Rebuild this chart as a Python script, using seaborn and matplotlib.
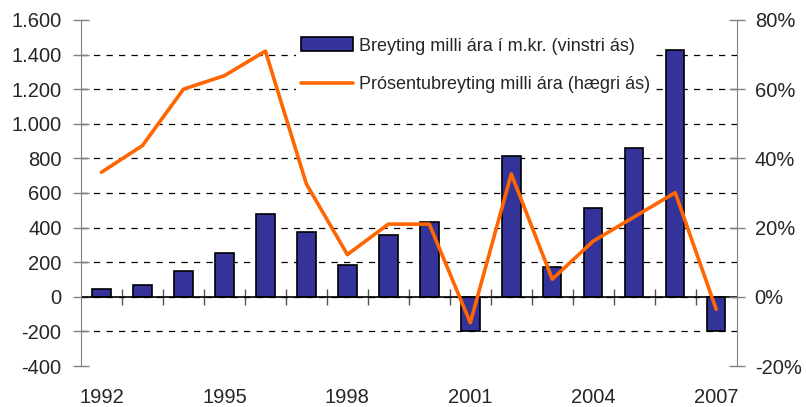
import numpy as np
import pandas as pd
import matplotlib
matplotlib.use("Agg")
import matplotlib.pyplot as plt
import matplotlib.ticker as mticker
import seaborn as sns

years = [1992, 1993, 1994, 1995, 1996, 1997, 1998, 1999,
         2000, 2001, 2002, 2003, 2004, 2005, 2006, 2007]
change_mkr = [47, 70, 151, 256, 478, 374, 186, 360,
              431, -197, 816, 175, 513, 862, 1428, -195]
change_pct = [36, 43.7, 60, 63.9, 71, 32.6, 12.2, 21,
              21, -7.5, 35.5, 5.1, 16.1, 23.1, 30.1, -3.6]

label_bar = "Breyting milli ára í m.kr. (vinstri ás)"
label_line = "Prósentubreyting milli ára (hægri ás)"

df = pd.DataFrame({"year": years, "mkr": change_mkr, "pct": change_pct})

sns.set_style("white")
plt.rcParams["font.family"] = ["Liberation Sans", "DejaVu Sans"]

fig = plt.figure(figsize=(8.06, 4.07), dpi=100)
ax = fig.add_axes([0.1005, 0.1007, 0.8135, 0.8503])

sns.barplot(data=df, x="year", y="mkr", native_scale=True, width=0.45,
            color="#333399", saturation=1, edgecolor="black", linewidth=1.2,
            label=label_bar, ax=ax)

ax.set_xlim(years[0] - 0.5, years[-1] + 0.5)
ax.set_ylim(-400, 1600)
ax.set_yticks(range(-400, 1601, 200))
ax.yaxis.set_major_formatter(mticker.FuncFormatter(lambda v, p: f"{v:,.0f}".replace(",", ".")))
ax.set_xticks(years[::3])
ax.set_xlabel("")
ax.set_ylabel("")

ax.grid(axis="y", color="black", linestyle=(0, (5, 5)), linewidth=0.9)
ax.grid(axis="x", visible=False)
gl = ax.get_ygridlines()
gl[0].set_visible(False)
gl[-1].set_visible(False)
ax.set_axisbelow(True)
ax.axhline(0, color="black", linewidth=1.2, zorder=1.5)

for s in ["top", "bottom", "right"]:
    ax.spines[s].set_visible(False)
ax.spines["left"].set_color("#808080")
ax.tick_params(axis="y", direction="inout", length=12, width=1, color="#808080",
               pad=8, labelsize=14.5, left=True)
ax.tick_params(axis="x", length=0, pad=16, labelsize=14.5)

# category boundary marks on the zero line
sec = ax.secondary_xaxis(0.2)
sec.set_xticks([y + 0.5 for y in years[:-1]])
sec.tick_params(direction="inout", length=12, width=1, color="#555555", labelbottom=False)
sec.spines["bottom"].set_visible(False)

ax2 = ax.twinx()
sns.lineplot(data=df, x="year", y="pct", color="#FF6600", linewidth=2.6,
             label=label_line, ax=ax2)
ax2.set_ylim(-20, 80)
ax2.set_yticks(range(-20, 81, 20))
ax2.yaxis.set_major_formatter(mticker.FuncFormatter(lambda v, p: f"{v:.0f}%"))
ax2.set_ylabel("")
ax2.grid(False)
for s in ["top", "bottom", "left"]:
    ax2.spines[s].set_visible(False)
ax2.spines["right"].set_color("#808080")
ax2.tick_params(axis="y", direction="inout", length=12, width=1, color="#808080",
                pad=7, labelsize=14.5, right=True)

h1, l1 = ax.get_legend_handles_labels()
h2, l2 = ax2.get_legend_handles_labels()
if ax.get_legend():
    ax.get_legend().remove()
leg = ax2.legend(h1 + h2, l1 + l2, loc="upper left", bbox_to_anchor=(0.328, 0.965),
                 frameon=True, fancybox=False, facecolor="white", edgecolor="none",
                 framealpha=1, borderpad=0.3, fontsize=13, labelspacing=1.2,
                 handlelength=2.85, handleheight=0.8, handletextpad=0.33,
                 borderaxespad=0)

fig.savefig("out.png", dpi=100)
